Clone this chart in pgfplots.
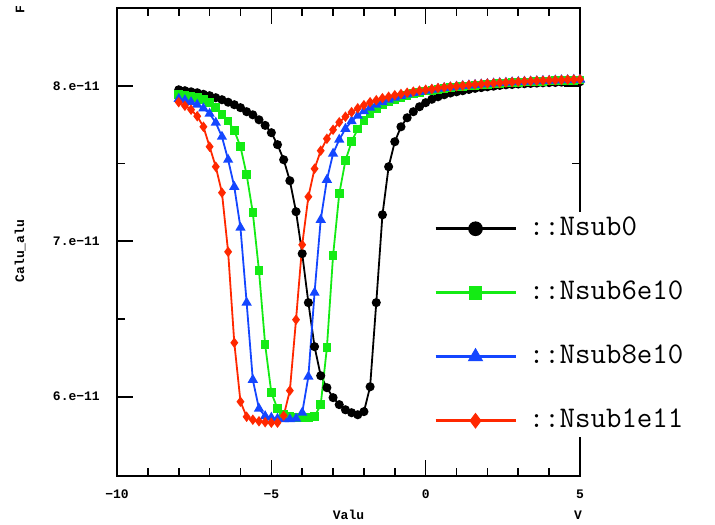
\documentclass[border=0pt]{standalone}
\usepackage{pgfplots}
\pgfplotsset{compat=1.18}
\usepackage{fontspec}
\setmainfont{Liberation Sans}
\newfontfamily\libmono{Liberation Mono}
\definecolor{cgreen}{RGB}{20,235,20}
\definecolor{cblue}{RGB}{20,70,255}
\definecolor{cred}{RGB}{255,40,0}
\newcommand{\tickfont}{\fontsize{13bp}{13bp}\selectfont\libmono\bfseries}
\newcommand{\legfont}{\fontsize{30bp}{30bp}\selectfont\ttfamily}
\begin{document}
\begin{tikzpicture}
\useasboundingbox (0,0) rectangle (715bp,525bp);
\begin{axis}[
  at={(117bp,49bp)}, anchor=south west,
  scale only axis, width=463bp, height=468bp,
  xmin=-10, xmax=5, ymin=5.49, ymax=8.5,
  xtick={-10,-5,0,5}, xticklabels={−10,−5,0,5},
  minor xtick={-9,-8,-7,-6,-4,-3,-2,-1,1,2,3,4},
  ytick={6,7,8}, yticklabels={6.e−11,7.e−11,8.e−11},
  minor ytick={6.5,7.5},
  tick pos=both, tick align=inside,
  major tick length=16bp, minor tick length=8bp,
  tick style={line width=1.6bp, black},
  axis line style={line width=1.6bp},
  ticklabel style={font=\tickfont},
  xticklabel style={inner sep=0pt, yshift=-14bp},
  yticklabel style={inner sep=0pt, xshift=-17bp},
  legend style={at={(0.6674,0.564)}, anchor=north west, draw=none, fill=white,
    font=\legfont, inner xsep=8bp, inner ysep=5bp, row sep=41bp, column sep=12bp,
    nodes={inner sep=0pt, text height=18bp, text depth=5bp}},
  legend cell align=left,
  legend image code/.code={\draw[mark repeat=2,mark phase=2,#1,line width=2.6bp,every mark/.append style={scale=1.9,line width=1bp}] plot coordinates {(0bp,0bp)(40bp,0bp)(80bp,0bp)};},
]
\addplot[black, line width=1.8bp, mark=*, mark size=3.6bp, mark options={solid,fill=black}] coordinates {
(-8.0,7.974)(-7.8,7.968)(-7.6,7.961)(-7.4,7.955)(-7.2,7.945)(-7.0,7.936)(-6.8,7.923)(-6.6,7.910)(-6.4,7.894)(-6.2,7.878)(-6.0,7.859)(-5.8,7.833)(-5.6,7.813)(-5.4,7.781)(-5.2,7.745)(-5.0,7.698)(-4.8,7.621)(-4.6,7.524)(-4.4,7.389)(-4.2,7.190)(-4.0,6.920)(-3.8,6.605)(-3.6,6.322)(-3.4,6.135)(-3.2,6.058)(-3.0,5.994)(-2.8,5.949)(-2.6,5.916)(-2.4,5.897)(-2.2,5.884)(-2.0,5.904)(-1.8,6.064)(-1.6,6.605)(-1.4,7.170)(-1.2,7.479)(-1.0,7.640)(-0.8,7.736)(-0.6,7.794)(-0.4,7.833)(-0.2,7.865)(0.0,7.891)(0.2,7.913)(0.4,7.929)(0.6,7.942)(0.8,7.953)(1.0,7.961)(1.2,7.968)(1.4,7.976)(1.6,7.983)(1.8,7.988)(2.0,7.993)(2.2,7.997)(2.4,8.002)(2.6,8.006)(2.8,8.008)(3.0,8.011)(3.2,8.013)(3.4,8.015)(3.6,8.017)(3.8,8.019)(4.0,8.020)(4.2,8.021)(4.4,8.023)(4.6,8.024)(4.8,8.024)(5.0,8.026)};
\addlegendentry{::Nsub0}
\addplot[cgreen, line width=1.8bp, mark=square*, mark size=3.4bp, mark options={solid,fill=cgreen}] coordinates {
(-8.0,7.945)(-7.8,7.939)(-7.6,7.932)(-7.4,7.923)(-7.2,7.910)(-7.0,7.891)(-6.8,7.859)(-6.6,7.814)(-6.4,7.772)(-6.2,7.711)(-6.0,7.608)(-5.8,7.428)(-5.6,7.183)(-5.4,6.810)(-5.2,6.334)(-5.0,6.026)(-4.8,5.923)(-4.6,5.884)(-4.4,5.875)(-4.2,5.868)(-4.0,5.865)(-3.8,5.865)(-3.6,5.871)(-3.4,5.949)(-3.2,6.315)(-3.0,6.907)(-2.8,7.305)(-2.6,7.518)(-2.4,7.640)(-2.2,7.723)(-2.0,7.775)(-1.8,7.823)(-1.6,7.852)(-1.4,7.878)(-1.2,7.897)(-1.0,7.913)(-0.8,7.926)(-0.6,7.939)(-0.4,7.949)(-0.2,7.957)(0.0,7.965)(0.2,7.971)(0.4,7.977)(0.6,7.982)(0.8,7.987)(1.0,7.992)(1.2,7.995)(1.4,7.999)(1.6,8.003)(1.8,8.006)(2.0,8.009)(2.2,8.012)(2.4,8.014)(2.6,8.017)(2.8,8.019)(3.0,8.021)(3.2,8.023)(3.4,8.025)(3.6,8.027)(3.8,8.028)(4.0,8.030)(4.2,8.032)(4.4,8.033)(4.6,8.034)(4.8,8.035)(5.0,8.037)};
\addlegendentry{::Nsub6e10}
\addplot[cblue, line width=1.8bp, mark=triangle*, mark size=4.2bp, mark options={solid,fill=cblue}] coordinates {
(-8.0,7.916)(-7.8,7.907)(-7.6,7.894)(-7.4,7.878)(-7.2,7.855)(-7.0,7.820)(-6.8,7.762)(-6.6,7.672)(-6.4,7.524)(-6.2,7.350)(-6.0,7.087)(-5.8,6.605)(-5.6,6.109)(-5.4,5.923)(-5.2,5.875)(-5.0,5.865)(-4.8,5.859)(-4.6,5.855)(-4.4,5.855)(-4.2,5.859)(-4.0,5.897)(-3.8,6.129)(-3.6,6.669)(-3.4,7.138)(-3.2,7.395)(-3.0,7.563)(-2.8,7.653)(-2.6,7.723)(-2.4,7.772)(-2.2,7.807)(-2.0,7.836)(-1.8,7.859)(-1.6,7.878)(-1.4,7.894)(-1.2,7.910)(-1.0,7.923)(-0.8,7.934)(-0.6,7.945)(-0.4,7.954)(-0.2,7.961)(0.0,7.968)(0.2,7.975)(0.4,7.981)(0.6,7.986)(0.8,7.990)(1.0,7.995)(1.2,7.999)(1.4,8.003)(1.6,8.006)(1.8,8.009)(2.0,8.012)(2.2,8.015)(2.4,8.018)(2.6,8.020)(2.8,8.023)(3.0,8.025)(3.2,8.027)(3.4,8.028)(3.6,8.030)(3.8,8.032)(4.0,8.033)(4.2,8.035)(4.4,8.036)(4.6,8.037)(4.8,8.039)(5.0,8.040)};
\addlegendentry{::Nsub8e10}
\addplot[cred, line width=1.8bp, mark=diamond*, mark size=3.8bp, mark options={solid,fill=cred}] coordinates {
(-8.0,7.894)(-7.8,7.871)(-7.6,7.846)(-7.4,7.804)(-7.2,7.736)(-7.0,7.608)(-6.8,7.479)(-6.6,7.312)(-6.4,6.932)(-6.2,6.347)(-6.0,5.968)(-5.8,5.871)(-5.6,5.852)(-5.4,5.842)(-5.2,5.836)(-5.0,5.833)(-4.8,5.833)(-4.6,5.878)(-4.4,6.039)(-4.2,6.495)(-4.0,6.977)(-3.8,7.286)(-3.6,7.466)(-3.4,7.582)(-3.2,7.659)(-3.0,7.717)(-2.8,7.765)(-2.6,7.801)(-2.4,7.830)(-2.2,7.855)(-2.0,7.875)(-1.8,7.894)(-1.6,7.907)(-1.4,7.920)(-1.2,7.929)(-1.0,7.939)(-0.8,7.947)(-0.6,7.955)(-0.4,7.962)(-0.2,7.968)(0.0,7.974)(0.2,7.979)(0.4,7.985)(0.6,7.989)(0.8,7.994)(1.0,7.997)(1.2,8.001)(1.4,8.005)(1.6,8.008)(1.8,8.011)(2.0,8.014)(2.2,8.016)(2.4,8.019)(2.6,8.021)(2.8,8.024)(3.0,8.026)(3.2,8.028)(3.4,8.030)(3.6,8.032)(3.8,8.033)(4.0,8.035)(4.2,8.036)(4.4,8.037)(4.6,8.039)(4.8,8.040)(5.0,8.041)};
\addlegendentry{::Nsub1e11}
\end{axis}
\node[font=\tickfont] at (348.5bp,10bp) {Valu};
\node[font=\tickfont] at (578bp,10bp) {V};
\node[font=\tickfont, rotate=90] at (20bp,274bp) {Calu\_alu};
\node[font=\tickfont, rotate=90] at (20bp,515bp) {F};
\end{tikzpicture}
\end{document}
